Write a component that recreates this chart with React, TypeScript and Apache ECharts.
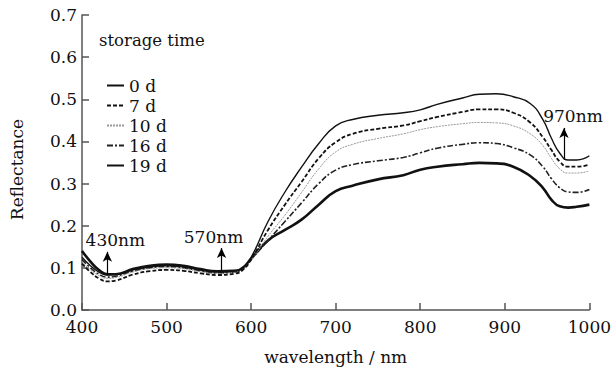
import React, { useEffect, useRef } from "react";
import * as echarts from "echarts";

const wavelengths = [400, 410, 420, 430, 440, 460, 480, 500, 520, 540, 560, 580, 590, 600, 620, 640, 660, 680, 700, 720, 750, 780, 800, 820, 850, 870, 890, 910, 930, 945, 955, 965, 975, 985, 1000];

const d0 = [0.125, 0.105, 0.09, 0.083, 0.084, 0.095, 0.102, 0.105, 0.102, 0.095, 0.09, 0.092, 0.1, 0.125, 0.21, 0.28, 0.34, 0.395, 0.437, 0.452, 0.462, 0.468, 0.475, 0.488, 0.503, 0.512, 0.513, 0.506, 0.49, 0.452, 0.408, 0.372, 0.356, 0.356, 0.366];
const d7 = [0.11, 0.09, 0.075, 0.068, 0.07, 0.084, 0.092, 0.095, 0.093, 0.087, 0.083, 0.086, 0.095, 0.12, 0.19, 0.25, 0.305, 0.36, 0.398, 0.418, 0.43, 0.438, 0.448, 0.458, 0.47, 0.476, 0.476, 0.468, 0.445, 0.41, 0.38, 0.352, 0.34, 0.34, 0.345];
const d10 = [0.115, 0.095, 0.082, 0.075, 0.077, 0.09, 0.098, 0.1, 0.098, 0.091, 0.087, 0.09, 0.097, 0.118, 0.175, 0.225, 0.28, 0.335, 0.375, 0.393, 0.407, 0.418, 0.428, 0.435, 0.442, 0.445, 0.444, 0.437, 0.418, 0.39, 0.36, 0.335, 0.325, 0.325, 0.33];
const d16 = [0.12, 0.1, 0.085, 0.078, 0.08, 0.092, 0.1, 0.103, 0.1, 0.093, 0.088, 0.09, 0.098, 0.12, 0.165, 0.21, 0.255, 0.3, 0.332, 0.345, 0.354, 0.362, 0.373, 0.384, 0.393, 0.397, 0.395, 0.385, 0.368, 0.34, 0.312, 0.29, 0.28, 0.279, 0.286];
const d19 = [0.14, 0.115, 0.095, 0.085, 0.085, 0.097, 0.105, 0.108, 0.105, 0.097, 0.092, 0.093, 0.1, 0.122, 0.165, 0.19, 0.215, 0.25, 0.282, 0.295, 0.31, 0.32, 0.333, 0.34, 0.346, 0.349, 0.348, 0.34, 0.318, 0.29, 0.262, 0.246, 0.243, 0.245, 0.25];

const seriesNames = ["0 d", "7 d", "10 d", "16 d", "19 d"];
const xTicks = [400, 500, 600, 700, 800, 900, 1000];

// arrow annotations: [wavelength, from, to, label]
const arrows: [number, number, number, string][] = [
  [430, 0.083, 0.138, "430nm"],
  [565, 0.09, 0.147, "570nm"],
  [970, 0.356, 0.432, "970nm"],
];
const arrowLabelShift = [8, -8, 9];

const FONT = "'DejaVu Serif', serif";

export default function App() {
  const ref = useRef<HTMLDivElement>(null);
  useEffect(() => {
    document.body.style.margin = "0";
    const chart = echarts.init(ref.current!, undefined, { renderer: "svg" });
    const all = [d0, d7, d10, d16, d19];
    const styles = [
      { color: "#111", width: 1.4, type: "solid" as any },
      { color: "#111", width: 1.8, type: [4, 2] as any },
      { color: "#999", width: 1, type: [2, 1] as any },
      { color: "#222", width: 1.6, type: [6, 2, 2, 2] as any },
      { color: "#111", width: 2.6, type: "solid" as any },
    ];
    const series: any[] = all.map((vals, i) => ({
      name: seriesNames[i],
      type: "line",
      smooth: true,
      symbol: "none",
      data: wavelengths.map((w, j) => [w, vals[j]]),
      lineStyle: styles[i],
      itemStyle: { color: styles[i].color },
      z: 5 - i,
    }));
    series.push({
      type: "line",
      data: [],
      silent: true,
      markLine: {
        silent: true,
        symbol: ["none", "arrow"],
        symbolSize: [7, 10],
        lineStyle: { color: "#000", width: 1.2, type: "solid" },
        label: {
          show: true,
          position: "end",
          fontFamily: FONT,
          fontSize: 17,
          color: "#111",
          distance: 3,
        },
        data: arrows.map(([w, a, b, t], i) => [
          { coord: [w, a], label: { formatter: t, offset: [arrowLabelShift[i], 0] } },
          { coord: [w, b] },
        ]),
      },
    });
    chart.setOption({
      animation: false,
      backgroundColor: "#fff",
      title: {
        text: "storage time",
        left: 94,
        top: 27,
        textStyle: { fontFamily: FONT, fontSize: 16.5, fontWeight: "normal", color: "#111" },
      },
      legend: {
        orient: "vertical",
        left: 101,
        top: 72,
        itemWidth: 17,
        itemHeight: 10,
        itemGap: 3,
        data: seriesNames,
        itemStyle: { opacity: 0 },
        textStyle: { fontFamily: FONT, fontSize: 17, color: "#111" },
      },
      grid: { left: 82, right: 19, top: 15, bottom: 63 },
      xAxis: {
        type: "value",
        min: 400,
        max: 1000,
        interval: 100,
        name: "wavelength / nm",
        nameLocation: "middle",
        nameGap: 38,
        nameTextStyle: { fontFamily: FONT, fontSize: 17, color: "#111" },
        axisLine: { lineStyle: { color: "#555", width: 1.5 } },
        axisTick: { inside: true, length: 7, lineStyle: { color: "#555", width: 1.5 } },
        axisLabel: {
          fontFamily: FONT,
          fontSize: 17,
          color: "#111",
          margin: 8,
          formatter: (v: number) => (xTicks.includes(v) ? String(v) : ""),
        },
        splitLine: { show: false },
      },
      yAxis: {
        type: "value",
        min: 0,
        max: 0.7,
        interval: 0.1,
        name: "Reflectance",
        nameLocation: "middle",
        nameGap: 57,
        nameTextStyle: { fontFamily: FONT, fontSize: 17, color: "#111", padding: [0, 0, 0, -14] },
        axisLine: { show: true, lineStyle: { color: "#555", width: 1.5 } },
        axisTick: { show: true, inside: true, length: 7, lineStyle: { color: "#555", width: 1.5 } },
        axisLabel: {
          fontFamily: FONT,
          fontSize: 17,
          color: "#111",
          margin: 5,
          formatter: (v: number) => v.toFixed(1),
        },
        splitLine: { show: false },
      },
      series,
    });
    return () => chart.dispose();
  }, []);
  return <div ref={ref} style={{ width: 614, height: 373 }} />;
}
